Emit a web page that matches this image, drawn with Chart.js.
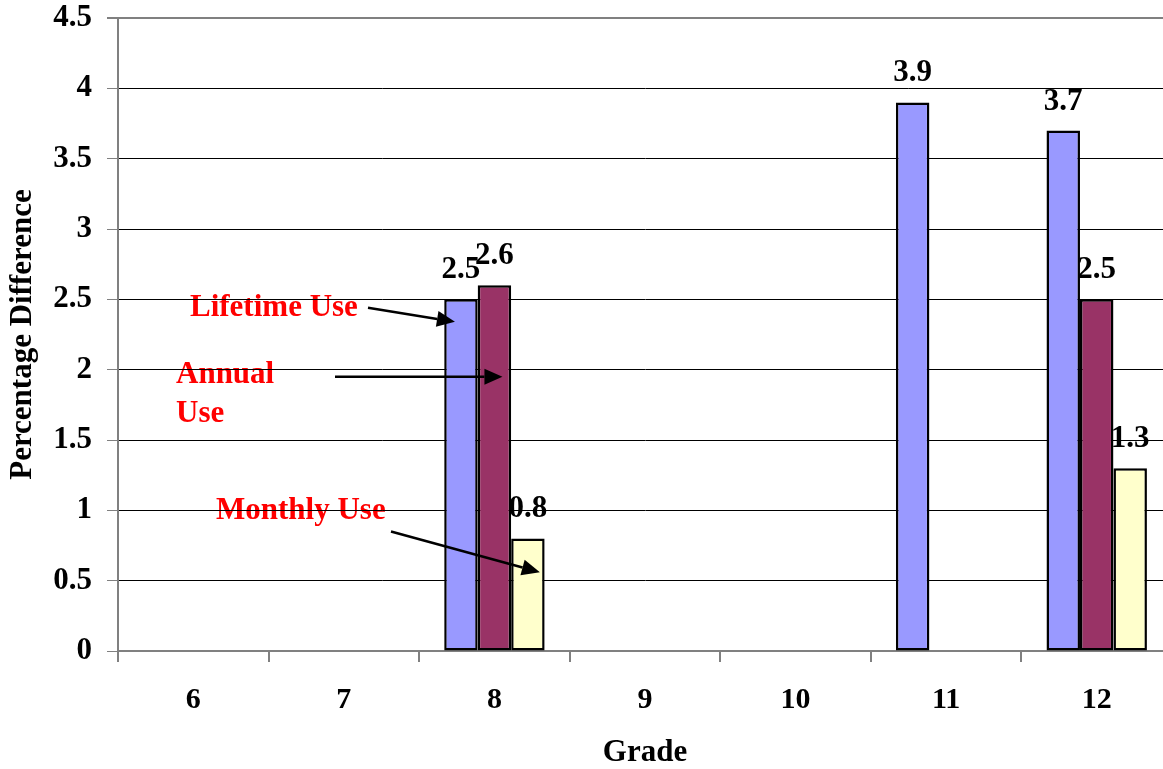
<!DOCTYPE html>
<html lang="en">
<head>
    <meta charset="UTF-8">
    <title>Percentage Difference by Grade</title>
    <script src="https://cdn.jsdelivr.net/npm/chart.js"></script>
    <style>
        body {
            margin: 0;
            background: #ffffff;
            overflow: hidden;
        }
        .chart-box {
            width: 1173px;
            height: 769px;
        }
    </style>
</head>
<body>
    <div class="chart-box">
        <canvas id="gradeChart"></canvas>
    </div>

    <script>
        // data
        const grades = ["6", "7", "8", "9", "10", "11", "12"];
        const lifetimeUse = [null, null, 2.5, null, null, 3.9, 3.7];
        const annualUse = [null, null, 2.6, null, null, null, 2.5];
        const monthlyUse = [null, null, 0.8, null, null, null, 1.3];
        const yTicks = [0, 0.5, 1, 1.5, 2, 2.5, 3, 3.5, 4, 4.5];

        const serif = "'Liberation Serif', 'Times New Roman', serif";

        // value labels above each bar
        const valueLabels = {
            id: "valueLabels",
            afterDatasetsDraw(chart) {
                const ctx = chart.ctx;
                ctx.save();
                ctx.font = "bold 31px " + serif;
                ctx.fillStyle = "#000";
                ctx.textAlign = "center";
                ctx.textBaseline = "alphabetic";
                chart.data.datasets.forEach((ds, i) => {
                    chart.getDatasetMeta(i).data.forEach((bar, j) => {
                        if (ds.data[j] == null) return;
                        ctx.fillText(String(ds.data[j]), bar.x, bar.y - 21);
                    });
                });
                ctx.restore();
            }
        };

        // red callout texts (under the grid) and the black arrows (over the bars)
        const callouts = {
            id: "callouts",
            beforeDraw(chart) {
                const ctx = chart.ctx;
                const y = chart.scales.y;
                const left = chart.chartArea.left;
                ctx.save();
                ctx.fillStyle = "#ff0000";
                ctx.font = "bold 31px " + serif;
                ctx.textBaseline = "alphabetic";
                ctx.fillText("Lifetime Use", left + 72, y.getPixelForValue(2.385));
                ctx.fillText("Annual", left + 58, y.getPixelForValue(1.905));
                ctx.fillText("Use", left + 58, y.getPixelForValue(1.63));
                ctx.fillText("Monthly Use", left + 98, y.getPixelForValue(0.935));
                ctx.restore();
            },
            afterDatasetsDraw(chart) {
                const ctx = chart.ctx;
                const y = chart.scales.y;
                const left = chart.chartArea.left;
                const life = chart.getDatasetMeta(0).data[2];
                const ann = chart.getDatasetMeta(1).data[2];
                const mon = chart.getDatasetMeta(2).data[2];
                const arrow = (x1, y1, x2, y2) => {
                    const a = Math.atan2(y2 - y1, x2 - x1);
                    const len = 18, half = 8;
                    const bx = x2 - len * Math.cos(a), by = y2 - len * Math.sin(a);
                    ctx.beginPath();
                    ctx.moveTo(x1, y1);
                    ctx.lineTo(bx, by);
                    ctx.stroke();
                    ctx.beginPath();
                    ctx.moveTo(x2, y2);
                    ctx.lineTo(bx + half * Math.sin(a), by - half * Math.cos(a));
                    ctx.lineTo(bx - half * Math.sin(a), by + half * Math.cos(a));
                    ctx.closePath();
                    ctx.fill();
                };
                ctx.save();
                ctx.strokeStyle = "#000";
                ctx.fillStyle = "#000";
                ctx.lineWidth = 2.5;
                arrow(left + 250, y.getPixelForValue(2.44), life.x - 6, y.getPixelForValue(2.34));
                arrow(left + 217, y.getPixelForValue(1.95), ann.x + 8, y.getPixelForValue(1.95));
                arrow(left + 273, y.getPixelForValue(0.85), mon.x + 12, y.getPixelForValue(0.56));
                ctx.restore();
            }
        };

        const ctx = document.getElementById("gradeChart").getContext("2d");
        new Chart(ctx, {
            type: "bar",
            data: {
                labels: grades,
                datasets: [
                    { label: "Lifetime Use", data: lifetimeUse, backgroundColor: "#9999ff" },
                    { label: "Annual Use", data: annualUse, backgroundColor: "#993366" },
                    { label: "Monthly Use", data: monthlyUse, backgroundColor: "#ffffcc" }
                ]
            },
            options: {
                responsive: true,
                maintainAspectRatio: false,
                animation: false,
                layout: { padding: { top: 0, right: 1, left: 0, bottom: 0 } },
                datasets: {
                    bar: {
                        borderColor: "#000",
                        borderWidth: 2.5,
                        borderSkipped: false,
                        categoryPercentage: 0.667,
                        barPercentage: 1
                    }
                },
                plugins: {
                    legend: { display: false },
                    tooltip: { enabled: false }
                },
                scales: {
                    x: {
                        afterFit(scale) { scale.height = 118; },
                        grid: {
                            offset: true,
                            drawOnChartArea: false,
                            tickLength: 11,
                            tickColor: "#808080",
                            lineWidth: 2
                        },
                        border: { color: "#808080", width: 2 },
                        ticks: {
                            color: "#000",
                            padding: 20,
                            font: { family: serif, size: 30, weight: "bold" }
                        },
                        title: {
                            display: true,
                            text: "Grade",
                            color: "#000",
                            padding: { top: 0, bottom: 1 },
                            font: { family: serif, size: 31, weight: "bold", lineHeight: 1 }
                        }
                    },
                    y: {
                        min: 0,
                        max: 4.5,
                        afterFit(scale) {
                            scale.width = 118;
                            scale.paddingTop = 18;
                        },
                        afterBuildTicks(scale) {
                            scale.ticks = yTicks.map(v => ({ value: v }));
                        },
                        grid: {
                            color: c => c.tick && c.tick.value === 4.5 ? "#808080" : "#000",
                            lineWidth: c => c.tick && c.tick.value === 4.5 ? 2 : 1,
                            tickLength: 11,
                            tickColor: "#808080"
                        },
                        border: { color: "#808080", width: 2 },
                        ticks: {
                            color: "#000",
                            padding: 15,
                            callback: v => String(v),
                            font: { family: serif, size: 31, weight: "bold" }
                        },
                        title: {
                            display: true,
                            text: "Percentage Difference",
                            color: "#000",
                            padding: { top: 7, bottom: 0 },
                            font: { family: serif, size: 31, weight: "bold", lineHeight: 1 }
                        }
                    }
                }
            },
            plugins: [valueLabels, callouts]
        });
    </script>
</body>
</html>
